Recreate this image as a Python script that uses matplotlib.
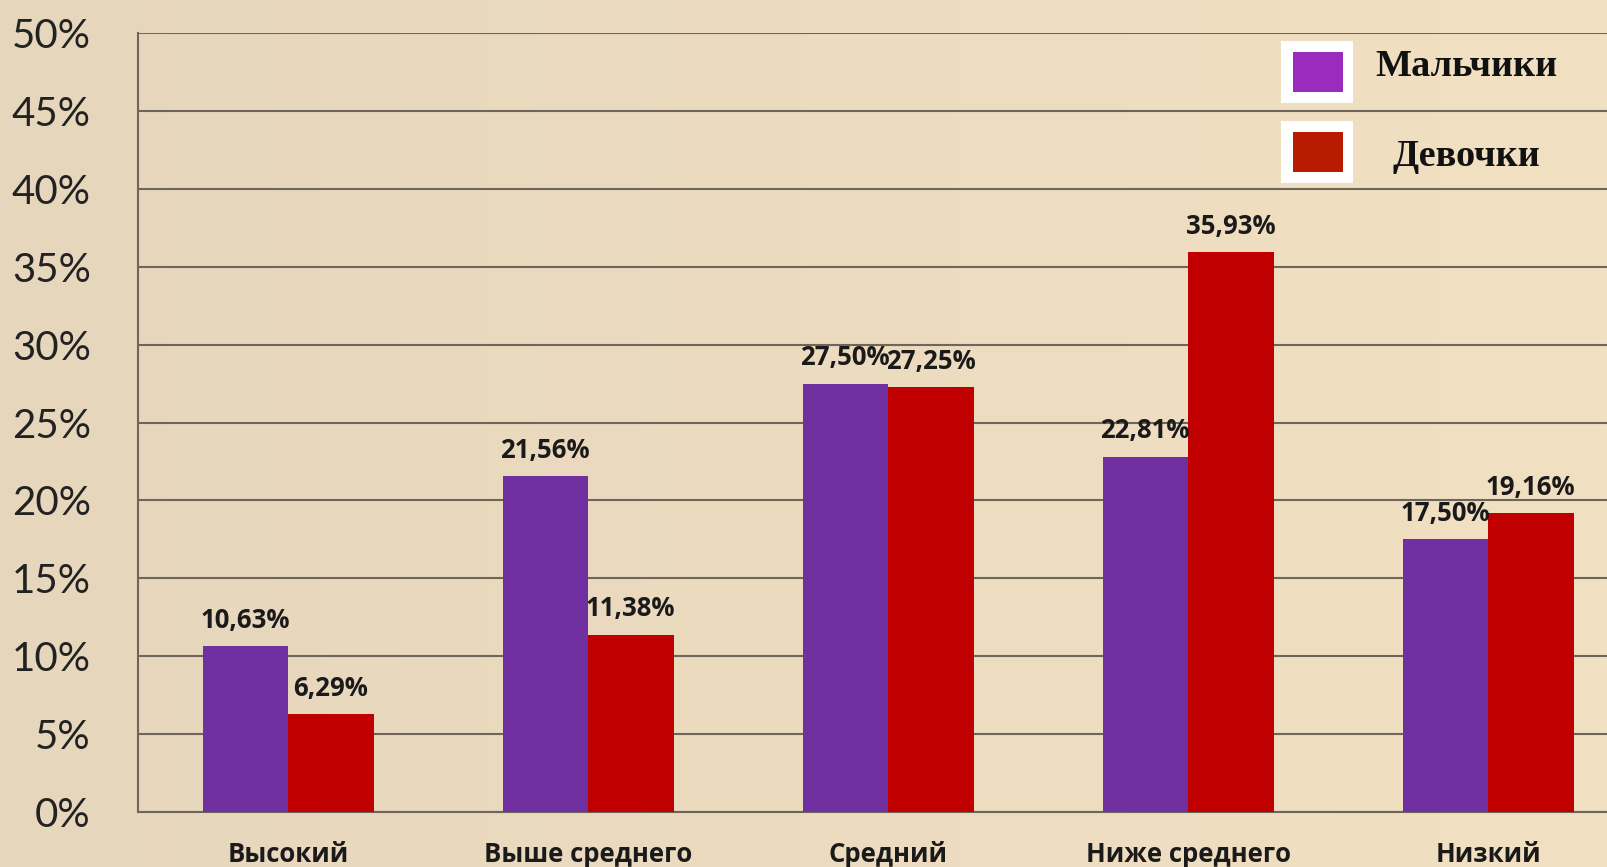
import matplotlib
matplotlib.use("Agg")
import matplotlib.pyplot as plt
from matplotlib.patches import Rectangle
import matplotlib.transforms as mtransforms
import numpy as np

categories = ["Высокий", "Выше среднего", "Средний", "Ниже среднего", "Низкий"]
boys = [10.63, 21.56, 27.50, 22.81, 17.50]
girls = [6.29, 11.38, 27.25, 35.93, 19.16]
series_names = ["Мальчики", "Девочки"]
yticks = [0, 5, 10, 15, 20, 25, 30, 35, 40, 45, 50]

W, H = 1607, 867
fig = plt.figure(figsize=(W / 100, H / 100), dpi=100)
fig.patch.set_facecolor("#EFDDBE")

# subtle background shading
bg = fig.add_axes([0, 0, 1, 1], zorder=-10)
xx = np.linspace(0, 1, 200)
yy = np.linspace(0, 1, 120)
X, Y = np.meshgrid(xx, yy)
shade = 0.5 + 0.5 * X
bg.imshow(shade, cmap=matplotlib.colors.LinearSegmentedColormap.from_list(
    "bgc", ["#E6D6BC", "#F2E0C2"]), aspect="auto", extent=[0, 1, 0, 1])
bg.axis("off")

ax = fig.add_axes([138 / W, 1 - 812 / H, 1 - 138 / W, (812 - 33) / H])
ax.set_facecolor("none")

grid_col = "#6E665C"
x = np.arange(len(categories))
bw = 0.285
b1 = ax.bar(x - bw / 2, boys, bw, color="#7030A0", zorder=3)
b2 = ax.bar(x + bw / 2, girls, bw, color="#C00000", zorder=3)

fmt = lambda v: f"{v:.2f}%".replace(".", ",")
for bars, vals in ((b1, boys), (b2, girls)):
    for r, v in zip(bars, vals):
        ax.annotate(fmt(v), (r.get_x() + r.get_width() / 2, v),
                    xytext=(0, 9), textcoords="offset points",
                    ha="center", va="bottom", fontsize=18.5,
                    fontweight="bold", family="Open Sans", color="#1a1a1a",
                    zorder=5)

ax.set_ylim(0, 50)
ax.set_xlim(-0.5, (W - 138) / 300 - 0.5)
ax.set_yticks(yticks)
ax.set_yticklabels([f"{t}%" for t in yticks], fontsize=29,
                   family="Lato", fontweight="normal", color="#222222")
offset = mtransforms.ScaledTranslation(0, 3 / 72, fig.dpi_scale_trans)
for lbl in ax.get_yticklabels():
    lbl.set_transform(lbl.get_transform() + offset)
ax.set_xticks(x)
ax.set_xticklabels(categories, fontsize=18.5, fontweight="bold",
                   family="Open Sans", color="#1a1a1a")
ax.tick_params(axis="y", length=0, pad=34)
ax.tick_params(axis="x", length=0, pad=21)
ax.yaxis.grid(True, color=grid_col, linewidth=1.5, zorder=1)
ax.set_axisbelow(True)
for s in ("top", "right"):
    ax.spines[s].set_visible(False)
ax.spines["left"].set_color(grid_col)
ax.spines["left"].set_linewidth(1.5)
ax.spines["bottom"].set_color(grid_col)
ax.spines["bottom"].set_linewidth(1.5)

# legend (custom)
leg_items = [(series_names[0], "#9B2ABF", 72, 67), (series_names[1], "#B81C00", 152, 157)]
for name, col, yc, yt in leg_items:
    yc_f = 1 - yc / H
    fig.patches.append(Rectangle((1281 / W, yc_f - 31 / H), 72 / W, 62 / H,
                                 transform=fig.transFigure, facecolor="white",
                                 edgecolor="none", zorder=6))
    fig.patches.append(Rectangle((1293 / W, yc_f - 20 / H), 50 / W, 40 / H,
                                 transform=fig.transFigure, facecolor=col,
                                 edgecolor="none", zorder=7))
    fig.text(1466 / W, 1 - yt / H, name, ha="center", va="center", fontsize=27.5,
             fontweight="bold", family="Liberation Serif", color="#111111",
             zorder=8)

fig.savefig("out.png", dpi=100, facecolor=fig.get_facecolor())
